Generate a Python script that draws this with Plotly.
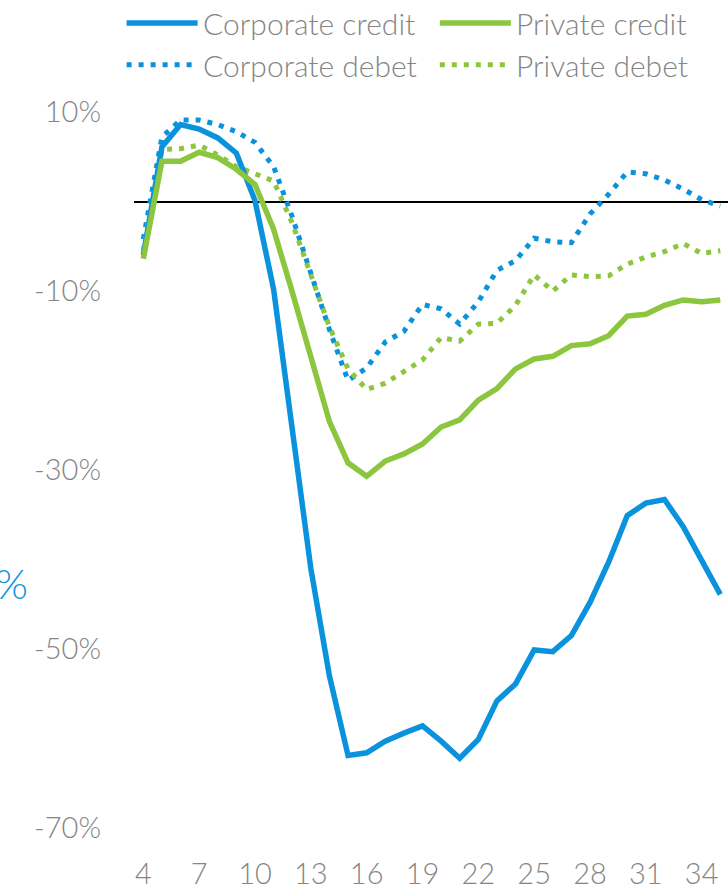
import plotly.graph_objects as go

periods = list(range(4, 36))

corporate_credit = [-6.0, 6.1, 8.6, 8.1, 7.1, 5.4, 0.1, -9.8, -25.4, -41.0, -53.0, -61.9,
                    -61.6, -60.3, -59.4, -58.6, -60.3, -62.2, -60.1, -55.8, -53.9, -50.1,
                    -50.3, -48.5, -44.8, -40.3, -35.1, -33.7, -33.3, -36.3, -40.1, -43.9]
private_credit = [-6.4, 4.5, 4.5, 5.5, 4.9, 3.6, 1.9, -3.1, -10.1, -17.6, -24.6, -29.2,
                  -30.7, -29.0, -28.2, -27.1, -25.2, -24.4, -22.2, -20.9, -18.7, -17.6,
                  -17.3, -16.1, -15.9, -15.0, -12.8, -12.6, -11.6, -11.0, -11.2, -11.0]
corporate_debet = [-4.2, 7.2, 9.1, 9.1, 8.6, 7.8, 6.6, 3.9, -1.7, -8.1, -14.3, -20.0,
                   -18.6, -15.7, -14.5, -11.5, -12.0, -13.7, -11.2, -7.7, -6.6, -4.1,
                   -4.5, -4.6, -1.4, 0.8, 3.3, 3.1, 2.4, 1.4, 0.2, -0.5]
private_debet = [-5.5, 5.8, 5.9, 6.3, 5.2, 3.9, 3.1, 2.3, -2.4, -8.3, -14.0, -18.7,
                 -21.0, -20.3, -19.0, -17.7, -15.2, -15.6, -13.7, -13.6, -11.6, -8.2,
                 -10.0, -8.2, -8.4, -8.3, -7.0, -6.2, -5.6, -4.7, -5.8, -5.5]

x_tickvals = [4, 7, 10, 13, 16, 19, 22, 25, 28, 31, 34]
y_tickvals = [10, -10, -30, -50, -70]
y_ticktext = ["10%", "-10%", "-30%", "-50%", "-70%"]

BLUE = "#0A93DC"
GREEN = "#8CC63F"
GRAY = "#858585"
FONT = dict(family="Lato", size=29, color=GRAY, weight=300)
LEGEND_FONT = dict(family="Lato", size=30, color=GRAY, weight=300)
DOT = "5px,7px"

fig = go.Figure()
fig.add_trace(go.Scatter(x=periods, y=corporate_debet, mode="lines", name="Corporate debet",
                         line=dict(color=BLUE, width=5, dash=DOT), showlegend=False))
fig.add_trace(go.Scatter(x=periods, y=private_debet, mode="lines", name="Private debet",
                         line=dict(color=GREEN, width=5, dash=DOT), showlegend=False))
fig.add_trace(go.Scatter(x=periods, y=corporate_credit, mode="lines", name="Corporate credit",
                         line=dict(color=BLUE, width=5.5), showlegend=False))
fig.add_trace(go.Scatter(x=periods, y=private_credit, mode="lines", name="Private credit",
                         line=dict(color=GREEN, width=5.5), showlegend=False))

W, H = 728, 890
L, T, B = 134.4, 111.5, 58.5
PW = W - L
PH = H - T - B

def px_x(p):
    return (p - L) / PW

def px_y(p):
    return (H - B - p) / PH

legend_items = [
    ("Corporate credit", BLUE, "solid", 127, 22),
    ("Private credit", GREEN, "solid", 440, 22),
    ("Corporate debet", BLUE, DOT, 127, 64),
    ("Private debet", GREEN, DOT, 440, 64),
]
for name, col, dash, x0, yc in legend_items:
    fig.add_shape(type="line", xref="paper", yref="paper",
                  x0=px_x(x0), x1=px_x(x0 + 71), y0=px_y(yc), y1=px_y(yc),
                  line=dict(color=col, width=5.5 if dash == "solid" else 5, dash=dash))
    fig.add_annotation(xref="paper", yref="paper", x=px_x(x0 + 74), y=px_y(yc),
                       text=name, showarrow=False, xanchor="left", yanchor="middle",
                       font=LEGEND_FONT)

# Cropped blue axis label at the left edge (cut off in the reference as well)
fig.add_annotation(xref="paper", yref="y", x=px_x(30), y=-42.6, text="0%", showarrow=False,
                   xanchor="right", yanchor="middle",
                   font=dict(family="Lato", size=42, color=BLUE, weight=300))

fig.update_layout(
    width=W, height=H,
    margin=dict(l=L, r=0, t=T, b=B, pad=0),
    plot_bgcolor="white", paper_bgcolor="white",
    font=FONT,
)
fig.update_xaxes(range=[3.5, 3.5 + PW / 18.6], tickvals=x_tickvals, showgrid=False,
                 zeroline=False, showline=False, ticks="", ticklabelstandoff=26,
                 tickfont=FONT)
fig.update_yaxes(range=[-70, 10], tickvals=y_tickvals, ticktext=y_ticktext, showgrid=False,
                 zeroline=True, zerolinecolor="black", zerolinewidth=2, showline=False,
                 ticks="", ticklabelstandoff=32, tickfont=FONT)

fig.write_html("out.html")
